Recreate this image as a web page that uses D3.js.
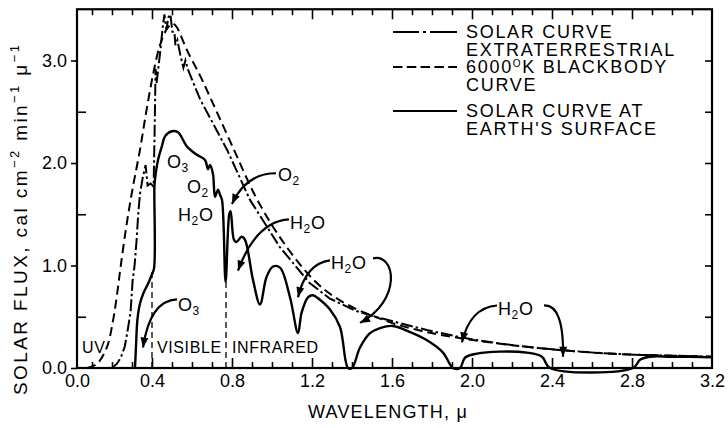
<!DOCTYPE html>
<html><head><meta charset="utf-8">
<script src="https://cdn.jsdelivr.net/npm/d3@7"></script>
<style>
body{margin:0;background:#fff}
svg{display:block}
text{font-family:"Liberation Sans",Arial,Helvetica,sans-serif;fill:#000}
</style>
</head><body>
<svg id="chart" width="728" height="428"></svg>
<script>
// ---- data (wavelength in micron, flux in cal cm^-2 min^-1 micron^-1) ----
const blackbodyWave = [0.075,0.124,0.174,0.204,0.224,0.244,0.273,0.303,0.34,0.373,0.407,0.44,0.472,0.502,0.522,0.575,0.641,0.691,0.805,0.924,1.059,1.208,1.307,1.416,1.516,1.615,1.774,1.943,2.013,2.211,2.41,2.609,2.808,3.006,3.2];
const blackbodyFlux = [0,0.04,0.2,0.45,0.7,1.0,1.4,1.75,2.13,2.52,2.88,3.15,3.3,3.36,3.33,3.1,2.85,2.64,2.15,1.65,1.22,0.86,0.7,0.58,0.5,0.43,0.35,0.29,0.27,0.22,0.18,0.15,0.13,0.12,0.11];

const extraWave = [0.199,0.224,0.244,0.264,0.281,0.293,0.303,0.313,0.323,0.331,0.34,0.353,0.368,0.378,0.393,0.408,0.413,0.418,0.423,0.433,0.442,0.452,0.462,0.472,0.482,0.492,0.502,0.512,0.517,0.527,0.542,0.557,0.567,0.582,0.641,0.775,0.89,1.039,1.188,1.287,1.416,1.516,1.615,1.774,1.943,2.013,2.211,2.41,2.609,2.808,3.006,3.2];
const extraFlux = [0,0.04,0.1,0.21,0.4,0.55,0.85,1.0,1.25,1.5,1.7,1.85,1.98,1.78,1.8,1.77,2.3,2.92,2.78,2.95,3.1,3.3,3.45,3.3,3.42,3.45,3.28,3.28,3.15,3.2,3.05,2.93,3.0,2.9,2.62,2.13,1.64,1.18,0.83,0.68,0.56,0.5,0.45,0.37,0.3,0.275,0.22,0.18,0.15,0.13,0.12,0.11];

const surfaceWave = [0.315,0.32,0.327,0.34,0.357,0.382,0.399,0.41,0.412,0.415,0.43,0.449,0.465,0.499,0.53,0.575,0.625,0.665,0.68,0.69,0.705,0.715,0.73,0.74,0.75,0.768,0.787,0.793,0.81,0.823,0.848,0.865,0.905,0.94,0.973,1.005,1.04,1.09,1.13,1.148,1.18,1.205,1.23,1.29,1.34,1.38,1.40,1.44,1.49,1.54,1.605,1.69,1.775,1.855,1.905,1.94,1.965,2.025,2.14,2.275,2.35,2.39,2.805,2.84,2.89,3.0,3.2];
const surfaceFlux = [0,0.21,0.47,0.63,0.73,0.83,0.91,0.97,1.76,1.84,2.03,2.16,2.26,2.31,2.30,2.16,2.08,2.03,1.94,1.98,1.89,1.67,1.74,1.69,1.64,0.84,1.51,1.53,1.25,1.23,1.28,1.25,0.86,0.62,0.89,0.99,0.98,0.69,0.34,0.54,0.69,0.71,0.68,0.57,0.40,0,0,0.2,0.34,0.39,0.41,0.35,0.27,0.15,0,0,0.1,0.14,0.16,0.15,0.11,0,0,0.08,0.11,0.11,0.105];

const xTickLabels = ["0.0","0.4","0.8","1.2","1.6","2.0","2.4","2.8","3.2"];
const yTickLabels = ["0.0","1.0","2.0","3.0"];
const regionBounds = [0.40, 0.77];          // visible / infrared limits (micron)
const regionBoundTops = [0.97, 0.84];
const regionNames = ["UV","VISIBLE","INFRARED"];

// ---- scales ----
const svg = d3.select("#chart");
const x = d3.scaleLinear().domain([0, 3.2]).range([72, 712]);
const y = d3.scaleLinear().domain([0, 3.5]).range([368, 9.25]);
const frameLeft = 77, frameRight = x(3.2), frameTop = y(3.5), frameBottom = y(0);

// ---- axes ----
const minorX = d3.range(1, 32).map(i => i / 10).filter(v => Math.round(v * 10) % 4 !== 0);
const majorX = d3.range(0, 9).map(i => i * 0.4);
const g = svg.append("g");

function styleAxis(sel) {
  sel.select(".domain").remove();
  sel.selectAll("line").attr("stroke", "#000").attr("stroke-width", 1.6);
  sel.selectAll("text").attr("font-size", 18).attr("font-family", '"Liberation Sans",Arial,sans-serif').attr("fill", "#000");
}

g.append("g").attr("transform", `translate(0,${frameBottom})`)
  .call(d3.axisBottom(x).tickValues(minorX).tickSize(-6).tickFormat("")).call(styleAxis);
const bx = g.append("g").attr("transform", `translate(0,${frameBottom})`)
  .call(d3.axisBottom(x).tickValues(majorX).tickSize(-10).tickPadding(6).tickFormat((d, i) => xTickLabels[i])).call(styleAxis);
bx.selectAll(".tick").filter(d => d === 0).select("line").remove();
bx.selectAll(".tick").filter(d => d === 0).select("text").attr("dx", 5);
bx.selectAll(".tick").filter(d => d > 3.1).select("line").remove();

g.append("g").attr("transform", `translate(0,${frameTop})`)
  .call(d3.axisTop(x).tickValues(minorX).tickSize(-6).tickFormat("")).call(styleAxis);
g.append("g").attr("transform", `translate(0,${frameTop})`)
  .call(d3.axisTop(x).tickValues(majorX.filter(v => v > 0 && v < 3.1)).tickSize(-10).tickFormat("")).call(styleAxis);

g.append("g").attr("transform", `translate(${frameLeft},0)`)
  .call(d3.axisLeft(y).tickValues([0, 1, 2, 3]).tickSize(6).tickPadding(4).tickFormat((d, i) => yTickLabels[i])).call(styleAxis);
g.append("g").attr("transform", `translate(${frameLeft},0)`)
  .call(d3.axisLeft(y).tickValues([0.5, 1.5, 2.5]).tickSize(-9).tickFormat("")).call(styleAxis);
g.append("g").attr("transform", `translate(${frameRight},0)`)
  .call(d3.axisRight(y).tickValues([0.5, 1, 1.5, 2, 2.5, 3]).tickSize(-7).tickFormat("")).call(styleAxis);

// frame
svg.append("rect").attr("x", frameLeft).attr("y", frameTop)
  .attr("width", frameRight - frameLeft).attr("height", frameBottom - frameTop)
  .attr("fill", "none").attr("stroke", "#000").attr("stroke-width", 2.2);

// ---- region boundaries ----
svg.selectAll(".bound").data(regionBounds).enter().append("line")
  .attr("x1", d => x(d)).attr("x2", d => x(d))
  .attr("y1", y(0)).attr("y2", (d, i) => y(regionBoundTops[i]))
  .attr("stroke", "#000").attr("stroke-width", 1.3).attr("stroke-dasharray", "6,4");

const regionLabelPos = [[0.05, 0.15], [0.425, 0.15], [0.8, 0.15]];
svg.selectAll(".region").data(regionNames).enter().append("text")
  .attr("x", (d, i) => x(regionLabelPos[i][0])).attr("y", (d, i) => y(regionLabelPos[i][1]))
  .attr("font-size", 16).attr("letter-spacing", 0.6).text(d => d);

// ---- curves ----
const line = d3.line().x(d => x(d[0])).y(d => y(d[1])).curve(d3.curveCatmullRom.alpha(0.5));
const lineLin = d3.line().x(d => x(d[0])).y(d => y(d[1]));
const bb = d3.zip(blackbodyWave, blackbodyFlux);
const et = d3.zip(extraWave, extraFlux);
const sf = d3.zip(surfaceWave, surfaceFlux);

svg.append("path").attr("d", line(bb)).attr("fill", "none").attr("stroke", "#000")
  .attr("stroke-width", 2).attr("stroke-dasharray", "9,5");
svg.append("path").attr("d", lineLin(et)).attr("fill", "none").attr("stroke", "#000")
  .attr("stroke-width", 2).attr("stroke-dasharray", "12,3,2.5,3");
svg.append("path").attr("d", line(sf)).attr("fill", "none").attr("stroke", "#000")
  .attr("stroke-width", 2.4).attr("stroke-linejoin", "round");

// ---- legend ----
const legendStyles = [
  {dash: "26,4,3,4,27", lines: ["SOLAR CURVE", "EXTRATERRESTRIAL"]},
  {dash: "9.5,4.3", lines: ["6000", "CURVE"]},
  {dash: null, lines: ["SOLAR CURVE AT", "EARTH'S SURFACE"]}
];
const legendLineY = [32, 67, 111];
const legendTextY = [[38, 56], [73, 91], [117, 135]];
legendStyles.forEach((s, i) => {
  const ln = svg.append("line").attr("x1", 393).attr("x2", 457)
    .attr("y1", legendLineY[i]).attr("y2", legendLineY[i])
    .attr("stroke", "#000").attr("stroke-width", 2.2);
  if (s.dash) ln.attr("stroke-dasharray", s.dash);
  s.lines.forEach((t, j) => {
    const tx = svg.append("text").attr("x", 466).attr("y", legendTextY[i][j])
      .attr("font-size", 18).attr("letter-spacing", 1.7);
    if (i === 1 && j === 0) {
      tx.append("tspan").text("6000");
      tx.append("tspan").attr("font-size", 10).attr("dy", -6).text("O");
      tx.append("tspan").attr("dy", 6).text("K BLACKBODY");
    } else tx.text(t);
  });
});

// ---- axis titles ----
const yt = svg.append("text").attr("transform", "translate(27,395) rotate(-90)")
  .attr("font-size", 19).attr("letter-spacing", 2.4);
yt.append("tspan").text("SOLAR FLUX, cal cm");
yt.append("tspan").attr("font-size", 13).attr("dy", -8).text("\u22122");
yt.append("tspan").attr("dy", 8).text(" min");
yt.append("tspan").attr("font-size", 13).attr("dy", -8).text("\u22121");
yt.append("tspan").attr("dy", 8).text(" \u03bc");
yt.append("tspan").attr("font-size", 13).attr("dy", -8).text("\u22121");

svg.append("text").attr("x", 308).attr("y", 418).attr("font-size", 18)
  .attr("letter-spacing", 1.2).text("WAVELENGTH, \u03bc");

// ---- annotations (positions in data units) ----
const annotations = [
  {t: ["O", "3", ""], x: 0.475, y: 1.95},
  {t: ["O", "2", ""], x: 0.575, y: 1.71},
  {t: ["H", "2", "O"], x: 0.53, y: 1.43},
  {t: ["O", "2", ""], x: 1.03, y: 1.82},
  {t: ["H", "2", "O"], x: 1.09, y: 1.36},
  {t: ["H", "2", "O"], x: 1.295, y: 0.97},
  {t: ["O", "3", ""], x: 0.53, y: 0.56},
  {t: ["H", "2", "O"], x: 2.13, y: 0.52}
];
annotations.forEach(a => {
  const tx = svg.append("text").attr("x", x(a.x)).attr("y", y(a.y)).attr("font-size", 18).attr("letter-spacing", 0.6);
  tx.append("tspan").text(a.t[0]);
  tx.append("tspan").attr("font-size", 12).attr("dy", 4).text(a.t[1]);
  if (a.t[2]) tx.append("tspan").attr("dy", -4).text(a.t[2]);
});

// arrows: start, control(s), tip in data units
const arrows = [
  [[1.02, 1.9], [0.87, 1.9], [0.8, 1.6]],
  [[1.085, 1.45], [0.92, 1.43], [0.83, 0.95]],
  [[1.29, 1.05], [1.17, 1.02], [1.13, 0.69]],
  [[1.505, 1.07], [1.62, 1.12], [1.65, 0.66], [1.44, 0.44]],
  [[0.525, 0.67], [0.39, 0.66], [0.355, 0.2]],
  [[2.125, 0.61], [1.99, 0.59], [1.95, 0.25]],
  [[2.36, 0.61], [2.46, 0.62], [2.455, 0.11]]
];
arrows.forEach(p => {
  const P = p.map(d => [x(d[0]), y(d[1])]);
  let d;
  if (P.length === 3) d = `M${P[0]}Q${P[1]} ${P[2]}`;
  else d = `M${P[0]}C${P[1]} ${P[2]} ${P[3]}`;
  const prev = P[P.length - 2], tip = P[P.length - 1];
  const ang = Math.atan2(tip[1] - prev[1], tip[0] - prev[0]);
  const L = 10, W = 4;
  const bxp = tip[0] - L * Math.cos(ang), byp = tip[1] - L * Math.sin(ang);
  svg.append("path").attr("d", d).attr("fill", "none").attr("stroke", "#000").attr("stroke-width", 2.2);
  svg.append("path")
    .attr("d", `M${tip[0]},${tip[1]}L${bxp + W * Math.sin(ang)},${byp - W * Math.cos(ang)}L${bxp - W * Math.sin(ang)},${byp + W * Math.cos(ang)}Z`)
    .attr("fill", "#000");
});
</script>
</body></html>
